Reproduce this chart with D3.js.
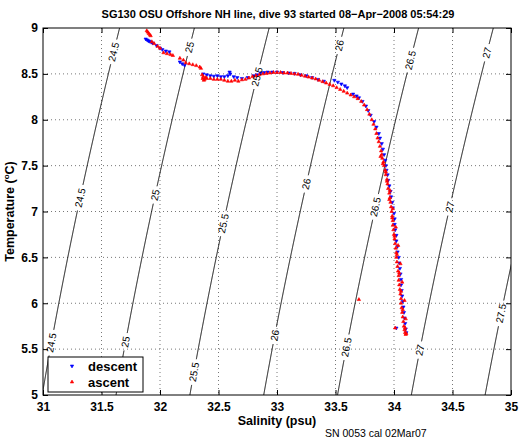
<!DOCTYPE html>
<html><head><meta charset="utf-8">
<script src="https://cdn.jsdelivr.net/npm/d3@7/dist/d3.min.js"></script>
<style>
body{margin:0;background:#fff;}
text{font-family:"Liberation Sans",Arial,Helvetica,sans-serif;}
</style></head>
<body><svg id="c" width="522" height="442"></svg>
<script>
// ---------- data ----------
const titleText = "SG130 OSU Offshore NH line, dive 93 started 08\u2212Apr\u22122008 05:54:29";
const xLabelText = "Salinity (psu)";
const footText = "SN 0053 cal 02Mar07";
const xTicks = [31,31.5,32,32.5,33,33.5,34,34.5,35];
const xTickLabels = ["31","31.5","32","32.5","33","33.5","34","34.5","35"];
const yTicks = [5,5.5,6,6.5,7,7.5,8,8.5,9];
const yTickLabels = ["5","5.5","6","6.5","7","7.5","8","8.5","9"];
const contourLevels = [24.5,25,25.5,26,26.5,27,27.5];
const labelLevels = [24.5,24.5,24.5, 25,25,25, 25.5,25.5,25.5, 26,26,26, 26.5,26.5,26.5, 27,27,27, 27.5];
const labelTemps  = [8.74,7.15,5.57, 8.79,7.18,5.58, 8.47,6.87,5.25, 8.81,7.30,5.65, 8.65,7.05,5.52, 8.73,7.05,5.49, 5.89];
const legendNames = ["descent","ascent"];

// descent (blue) [salinity, temperature]
const descentS = [31.878,31.89,31.90,31.91,31.925,31.938,31.97,32.00,32.02,32.05,32.08,32.17,32.19,32.21,
 32.37,32.40,32.43,32.46,32.49,32.52,32.55,32.58,32.595,32.60,32.63,32.66,32.70,32.75,32.80,32.83,32.86,32.89,32.92,
 32.96,33.00,33.05,33.10,33.15,33.20,33.25,33.30,33.35,33.40,33.49,33.52,33.55,33.58,33.60,33.65,33.68,33.70,33.73,
 33.76,33.78,33.80,33.83,33.85,33.87,33.88,33.895,33.905,33.915,33.925,33.93,33.935,33.945,33.95,33.96,33.97,33.975,33.985,33.99,
 34.00,34.005,34.005,34.01,34.02,34.02,34.03,34.03,34.04,34.045,34.05,34.055,34.06,34.06,34.065,34.07,34.075,34.08,34.085,34.09,34.095,34.10,34.105,34.02];
const descentT = [8.88,8.87,8.86,8.855,8.845,8.835,8.81,8.78,8.765,8.75,8.74,8.63,8.61,8.595,
 8.50,8.49,8.48,8.475,8.48,8.47,8.47,8.48,8.52,8.50,8.47,8.46,8.45,8.46,8.48,8.49,8.51,8.515,8.52,
 8.52,8.52,8.515,8.51,8.505,8.49,8.48,8.46,8.44,8.42,8.43,8.41,8.39,8.37,8.35,8.28,8.26,8.24,8.20,
 8.15,8.10,8.05,7.98,7.92,7.85,7.80,7.74,7.68,7.62,7.56,7.50,7.45,7.40,7.34,7.28,7.22,7.16,7.10,7.04,
 6.98,6.92,6.86,6.80,6.74,6.68,6.62,6.56,6.50,6.44,6.38,6.32,6.26,6.20,6.14,6.08,6.02,5.96,5.90,5.84,5.78,5.72,5.68,5.73];

// ascent (red) [salinity, temperature]
const ascentS = [31.887,31.895,31.904,31.913,31.92,31.93,31.95,31.98,32.00,32.03,32.06,32.09,32.11,32.17,32.20,
 32.22,32.25,32.28,32.31,32.34,32.35,32.36,32.37,32.365,32.38,32.39,32.375,
 32.40,32.43,32.46,32.49,32.52,32.55,32.58,32.61,32.64,32.67,32.70,32.73,32.76,32.79,
 32.82,32.85,32.88,32.91,32.94,32.97,33.00,33.03,33.06,33.09,33.12,33.15,33.18,
 33.21,33.24,33.27,33.30,33.33,33.36,33.39,33.42,33.45,33.48,33.51,33.54,33.57,33.60,33.63,33.66,33.69,
 33.72,33.745,33.77,33.79,33.81,33.825,33.84,33.85,33.86,33.87,33.88,33.89,33.895,33.90,33.91,33.915,33.925,33.93,33.94,33.945,
 33.95,33.96,33.965,33.97,33.975,33.98,33.985,33.99,33.99,33.995,34.00,34.005,34.01,34.015,34.02,34.02,34.025,34.03,34.035,34.04,
 34.04,34.045,34.05,34.055,34.06,34.06,34.065,34.07,34.075,34.08,34.085,34.09,34.095,34.10,
 33.885,33.905,33.93,33.94,33.965,33.96,33.99,33.985,34.015,34.005,34.035,34.025,34.055,34.045,34.07,34.06,34.09,34.075,34.10,34.095,34.105,
 33.70,34.01];
const ascentT = [8.97,8.955,8.94,8.925,8.915,8.85,8.83,8.80,8.78,8.73,8.72,8.71,8.70,8.67,8.65,
 8.62,8.61,8.60,8.59,8.575,8.56,8.49,8.47,8.45,8.44,8.46,8.43,
 8.45,8.45,8.44,8.44,8.44,8.43,8.42,8.42,8.43,8.42,8.435,8.44,8.455,8.47,
 8.48,8.49,8.50,8.505,8.51,8.515,8.515,8.515,8.51,8.51,8.505,8.50,8.495,
 8.485,8.475,8.465,8.455,8.445,8.43,8.415,8.40,8.385,8.37,8.35,8.33,8.31,8.29,8.27,8.25,8.23,
 8.20,8.16,8.11,8.06,8.00,7.95,7.90,7.85,7.80,7.76,7.71,7.66,7.62,7.58,7.54,7.50,7.45,7.40,7.35,7.30,
 7.25,7.20,7.15,7.10,7.05,7.00,6.95,6.90,6.85,6.80,6.75,6.70,6.65,6.60,6.55,6.50,6.45,6.40,6.35,6.30,
 6.25,6.20,6.15,6.10,6.05,6.00,5.95,5.90,5.85,5.80,5.75,5.71,5.68,5.66,
 7.60,7.52,7.43,7.33,7.23,7.13,7.03,6.93,6.83,6.73,6.63,6.53,6.43,6.33,6.23,6.13,6.03,5.93,5.83,5.73,5.67,
 6.04,5.73];

// ---------- sea-water density (UNESCO EOS-80, surface) ----------
function sigma(S,T){
  const rw = 999.842594 + 6.793952e-2*T - 9.095290e-3*T*T + 1.001685e-4*T**3 - 1.120083e-6*T**4 + 6.536332e-9*T**5;
  const A = 0.824493 - 4.0899e-3*T + 7.6438e-5*T*T - 8.2467e-7*T**3 + 5.3875e-9*T**4;
  const B = -5.72466e-3 + 1.0227e-4*T - 1.6546e-6*T*T;
  return rw + A*S + B*Math.pow(S,1.5) + 4.8314e-4*S*S - 1000;
}
function salAt(level,T){
  let lo=20, hi=42;
  for(let i=0;i<60;i++){const m=(lo+hi)/2; if(sigma(m,T)<level) lo=m; else hi=m;}
  return (lo+hi)/2;
}

// ---------- layout ----------
const svg = d3.select("#c");
const L=43, R=511, T0=28, B=395;
const x = d3.scaleLinear().domain([31,35]).range([L,R]);
const y = d3.scaleLinear().domain([5,9]).range([B,T0]);

svg.append("defs").append("clipPath").attr("id","clip")
  .append("rect").attr("x",L).attr("y",T0).attr("width",R-L).attr("height",B-T0);

// grid
const grid = svg.append("g").attr("stroke","#555").attr("stroke-width",0.8).attr("stroke-dasharray","1,3");
xTicks.slice(1,-1).forEach(v=>grid.append("line").attr("x1",x(v)).attr("x2",x(v)).attr("y1",T0).attr("y2",B));
yTicks.slice(1,-1).forEach(v=>grid.append("line").attr("y1",y(v)).attr("y2",y(v)).attr("x1",L).attr("x2",R));

// contour labels (measure first)
const plot = svg.append("g").attr("clip-path","url(#clip)");
const labG = svg.append("g");
const labels = labelLevels.map((lev,i)=>{
  const t = labelTemps[i], s = salAt(lev,t);
  const px = x(s), py = y(t);
  const s2 = salAt(lev,t+0.1);
  const ang = Math.atan2(y(t+0.1)-py, x(s2)-px)*180/Math.PI;
  const txt = labG.append("text").attr("transform",`translate(${px},${py}) rotate(${ang})`)
    .attr("text-anchor","middle").attr("dominant-baseline","central")
    .attr("font-size",10).attr("fill","#000").text(String(lev));
  const len = txt.node().getComputedTextLength();
  return {lev,px,py,half:len/2+3};
});

// contour lines
const tSamples = d3.range(4.8,9.21,0.005);
contourLevels.forEach(lev=>{
  const pts = tSamples.map(t=>[salAt(lev,t),t]);
  const labs = labels.filter(l=>l.lev===lev);
  const line = d3.line().x(d=>x(d[0])).y(d=>y(d[1]))
    .defined(d=>labs.every(l=>Math.hypot(x(d[0])-l.px,y(d[1])-l.py)>l.half));
  plot.append("path").attr("d",line(pts)).attr("fill","none").attr("stroke","#000").attr("stroke-width",1);
});

// data
const sym = d3.symbol().type(d3.symbolTriangle).size(5);
plot.append("g").selectAll("path").data(descentS.map((s,i)=>[s,descentT[i]])).join("path")
  .attr("d",sym).attr("fill","#0000ff").attr("stroke","#0000ff").attr("stroke-width",0.6)
  .attr("transform",d=>`translate(${x(d[0])},${y(d[1])}) rotate(180)`);
plot.append("g").selectAll("path").data(ascentS.map((s,i)=>[s,ascentT[i]])).join("path")
  .attr("d",sym).attr("fill","#ff0000").attr("stroke","#ff0000").attr("stroke-width",0.6)
  .attr("transform",d=>`translate(${x(d[0])},${y(d[1])})`);

// axes
const fmtX=(d,i)=>xTickLabels[i], fmtY=(d,i)=>yTickLabels[i];
const ax = svg.append("g").attr("transform",`translate(0,${B})`)
  .call(d3.axisBottom(x).tickValues(xTicks).tickFormat(fmtX).tickSize(-5).tickSizeOuter(0).tickPadding(7));
const ay = svg.append("g").attr("transform",`translate(${L},0)`)
  .call(d3.axisLeft(y).tickValues(yTicks).tickFormat(fmtY).tickSize(-5).tickSizeOuter(0).tickPadding(5));
svg.append("g").attr("transform",`translate(0,${T0})`)
  .call(d3.axisTop(x).tickValues(xTicks).tickFormat("").tickSize(-5).tickSizeOuter(0));
svg.append("g").attr("transform",`translate(${R},0)`)
  .call(d3.axisRight(y).tickValues(yTicks).tickFormat("").tickSize(-5).tickSizeOuter(0));
svg.selectAll(".domain").remove();
svg.selectAll(".tick line").attr("stroke","#000");
[ax,ay].forEach(g=>g.selectAll("text").attr("font-size",12).attr("font-weight","bold").attr("fill","#000")
  .style("font-family","'Liberation Sans',Arial,Helvetica,sans-serif"));
svg.append("rect").attr("x",L).attr("y",T0).attr("width",R-L).attr("height",B-T0)
  .attr("fill","none").attr("stroke","#000").attr("stroke-width",1);

// titles
svg.append("text").attr("x",278).attr("y",18).attr("text-anchor","middle")
  .attr("font-size",11).attr("font-weight","bold").text(titleText);
svg.append("text").attr("x",(L+R)/2).attr("y",425).attr("text-anchor","middle")
  .attr("font-size",12.5).attr("font-weight","bold").text(xLabelText);
const yl = svg.append("text").attr("transform",`translate(14,${(T0+B)/2}) rotate(-90)`)
  .attr("text-anchor","middle").attr("font-size",12.5).attr("font-weight","bold");
yl.append("tspan").text("Temperature (");
yl.append("tspan").attr("font-size",8).attr("dy",-5).text("o");
yl.append("tspan").attr("dy",5).text("C)");
svg.append("text").attr("x",325).attr("y",437).attr("font-size",10.5).text(footText);

// legend
const lg = svg.append("g");
lg.append("rect").attr("x",48).attr("y",357).attr("width",95).attr("height",35)
  .attr("fill","#fff").attr("stroke","#000").attr("stroke-width",1);
const legColors = ["#0000ff","#ff0000"], legRot=[180,0];
legendNames.forEach((n,i)=>{
  const cy = 366 + i*16;
  lg.append("path").attr("d",sym).attr("fill",legColors[i]).attr("stroke",legColors[i]).attr("stroke-width",0.6)
    .attr("transform",`translate(72,${cy}) rotate(${legRot[i]})`);
  lg.append("text").attr("x",88).attr("y",cy).attr("dominant-baseline","central")
    .attr("font-size",13).attr("font-weight","bold").text(n);
});
</script></body></html>
